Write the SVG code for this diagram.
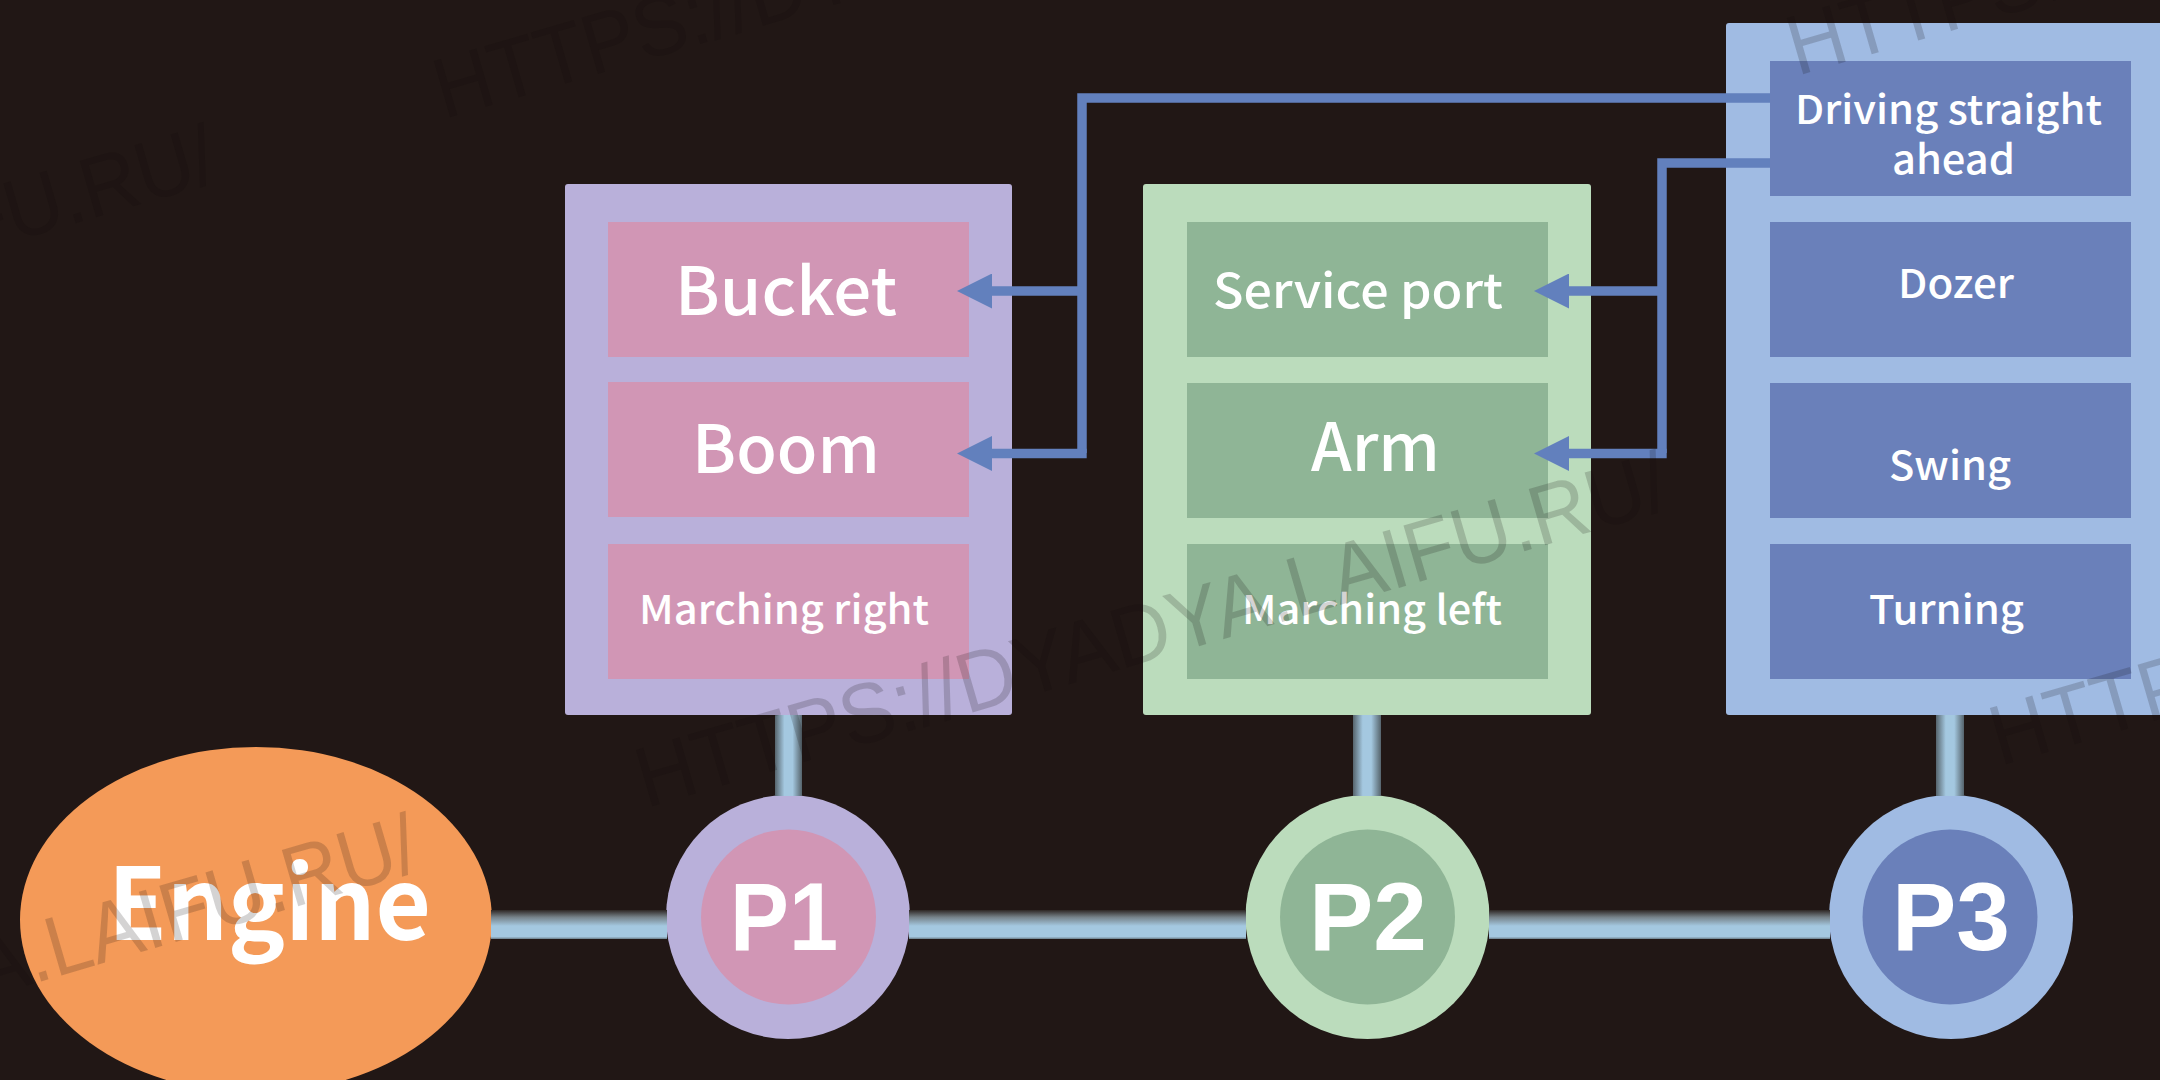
<svg xmlns="http://www.w3.org/2000/svg" width="2160" height="1080" viewBox="0 0 2160 1080">
<style>
.panel{rx:3px}
.lb{font-family:"Noto Sans CJK SC","Noto Sans",sans-serif;font-weight:500;fill:#fff}
.big{font-size:66px}.mid{font-size:48px}.sm{font-size:40px}
.pn{font-family:"Liberation Sans",Arial,sans-serif;font-weight:700;font-size:96px;fill:#fff}
.eng{font-family:"Noto Sans CJK SC","Noto Sans",sans-serif;font-weight:700;font-size:100px;fill:#fff}
.wire{fill:none;stroke:#6280bd;stroke-width:9.5}
.wm{font-family:"Liberation Sans",Arial,sans-serif;font-size:85px;fill:#100c0a;fill-opacity:.18}
</style>
<defs>
<linearGradient id="ph" x1="0" y1="0" x2="0" y2="1"><stop offset="0" stop-color="#2e2724"/><stop offset=".25" stop-color="#77838a"/><stop offset=".55" stop-color="#a4c8e0"/><stop offset=".92" stop-color="#a4c8e0"/><stop offset="1" stop-color="#6b7d88"/></linearGradient>
<linearGradient id="pv" x1="0" y1="0" x2="1" y2="0"><stop offset="0" stop-color="#56646c"/><stop offset=".35" stop-color="#a4c8e0"/><stop offset=".65" stop-color="#a4c8e0"/><stop offset="1" stop-color="#56646c"/></linearGradient>
<marker id="ah" markerUnits="userSpaceOnUse" markerWidth="35" markerHeight="35" viewBox="0 0 35 35" refX="12" refY="17.5" orient="auto"><path d="M0 0L35 17.5L0 35Z" fill="#6280bd"/></marker>
</defs>
<rect width="2160" height="1080" fill="#211715"/>
<g id="engine"><ellipse cx="256" cy="920" rx="236" ry="173" fill="#f49a58"/><text class="eng" x="108" y="940" textLength="323" lengthAdjust="spacingAndGlyphs">Engine</text></g>
<g id="p1-panel"><rect class="panel" x="565" y="184" width="447" height="531" fill="#b9b0da"/>
<g fill="#d196b5"><rect x="608" y="222" width="361" height="135"/><rect x="608" y="382" width="361" height="135"/><rect x="608" y="544" width="361" height="135"/></g>
<text class="lb big" x="675" y="315" textLength="222" lengthAdjust="spacingAndGlyphs">Bucket</text><text class="lb big" x="692" y="473" textLength="188" lengthAdjust="spacingAndGlyphs">Boom</text><text class="lb sm" x="639" y="624" textLength="290" lengthAdjust="spacingAndGlyphs">Marching right</text></g>
<g id="p2-panel"><rect class="panel" x="1143" y="184" width="448" height="531" fill="#bbdcbc"/>
<g fill="#8fb596"><rect x="1187" y="222" width="361" height="135"/><rect x="1187" y="383" width="361" height="135"/><rect x="1187" y="544" width="361" height="135"/></g>
<text class="lb mid" x="1213" y="308" textLength="290" lengthAdjust="spacingAndGlyphs">Service port</text><text class="lb big" x="1311" y="471" textLength="129" lengthAdjust="spacingAndGlyphs">Arm</text><text class="lb sm" x="1242" y="624" textLength="260" lengthAdjust="spacingAndGlyphs">Marching left</text></g>
<g id="p3-panel"><rect class="panel" x="1726" y="23" width="440" height="692" fill="#a0bbe3"/>
<g fill="#6a80ba"><rect x="1770" y="61" width="361" height="135"/><rect x="1770" y="222" width="361" height="135"/><rect x="1770" y="383" width="361" height="135"/><rect x="1770" y="544" width="361" height="135"/></g>
<text class="lb sm" x="1795" y="124" textLength="307" lengthAdjust="spacingAndGlyphs">Driving straight</text><text class="lb sm" x="1892" y="174" textLength="123" lengthAdjust="spacingAndGlyphs">ahead</text><text class="lb sm" x="1898" y="298" textLength="116" lengthAdjust="spacingAndGlyphs">Dozer</text><text class="lb sm" x="1889" y="480" textLength="122" lengthAdjust="spacingAndGlyphs">Swing</text><text class="lb sm" x="1869" y="624" textLength="155" lengthAdjust="spacingAndGlyphs">Turning</text></g>
<g id="p1"><circle cx="788" cy="917" r="122" fill="#b9b0da"/><circle cx="788.500" cy="917" r="87.500" fill="#d196b5"/><text class="pn" x="730" y="950" textLength="108" lengthAdjust="spacingAndGlyphs">P1</text></g>
<g id="p2"><circle cx="1367.500" cy="917" r="122" fill="#bbdcbc"/><circle cx="1367.500" cy="917" r="87.500" fill="#8fb596"/><text class="pn" x="1309" y="950" textLength="118" lengthAdjust="spacingAndGlyphs">P2</text></g>
<g id="p3"><circle cx="1951" cy="917" r="122" fill="#a0bbe3"/><circle cx="1950" cy="917" r="87.500" fill="#6a80ba"/><text class="pn" x="1892" y="950" textLength="118" lengthAdjust="spacingAndGlyphs">P3</text></g>
<g id="connectors">
<rect x="491" y="910" width="176" height="29" fill="url(#ph)"/><rect x="909" y="910" width="337" height="29" fill="url(#ph)"/><rect x="1489" y="910" width="341" height="29" fill="url(#ph)"/>
<rect x="775" y="715" width="27" height="81" fill="url(#pv)"/><rect x="1353" y="715" width="28" height="81" fill="url(#pv)"/><rect x="1936" y="715" width="28" height="81" fill="url(#pv)"/>
<path class="wire" d="M1770 98H1082V453"/><path class="wire" d="M1082 291H980" marker-end="url(#ah)"/><path class="wire" d="M1086.700 453.500H980" marker-end="url(#ah)"/>
<path class="wire" d="M1770 163H1662V453"/><path class="wire" d="M1662 291H1557" marker-end="url(#ah)"/><path class="wire" d="M1666.700 453.500H1557" marker-end="url(#ah)"/>
</g>
<g id="watermark">
<text class="wm" transform="translate(646 808) rotate(-16.300)" textLength="1070" lengthAdjust="spacingAndGlyphs">HTTPS://DYADYA.LAIFU.RU/</text>
<text class="wm" transform="translate(-580 1163) rotate(-16.300)" textLength="1045" lengthAdjust="spacingAndGlyphs">HTTPS://DYADYA.LAIFU.RU/</text>
<text class="wm" transform="translate(444 119) rotate(-16.300)" textLength="1045" lengthAdjust="spacingAndGlyphs">HTTPS://DYADYA.LAIFU.RU/</text>
<text class="wm" transform="translate(-782 474) rotate(-16.300)" textLength="1045" lengthAdjust="spacingAndGlyphs">HTTPS://DYADYA.LAIFU.RU/</text>
<text class="wm" transform="translate(1797 76) rotate(-16.300)" textLength="1045" lengthAdjust="spacingAndGlyphs">HTTPS://DYADYA.LAIFU.RU/</text>
<text class="wm" transform="translate(2000 766) rotate(-16.300)" textLength="1045" lengthAdjust="spacingAndGlyphs">HTTPS://DYADYA.LAIFU.RU/</text>
</g>
</svg>
